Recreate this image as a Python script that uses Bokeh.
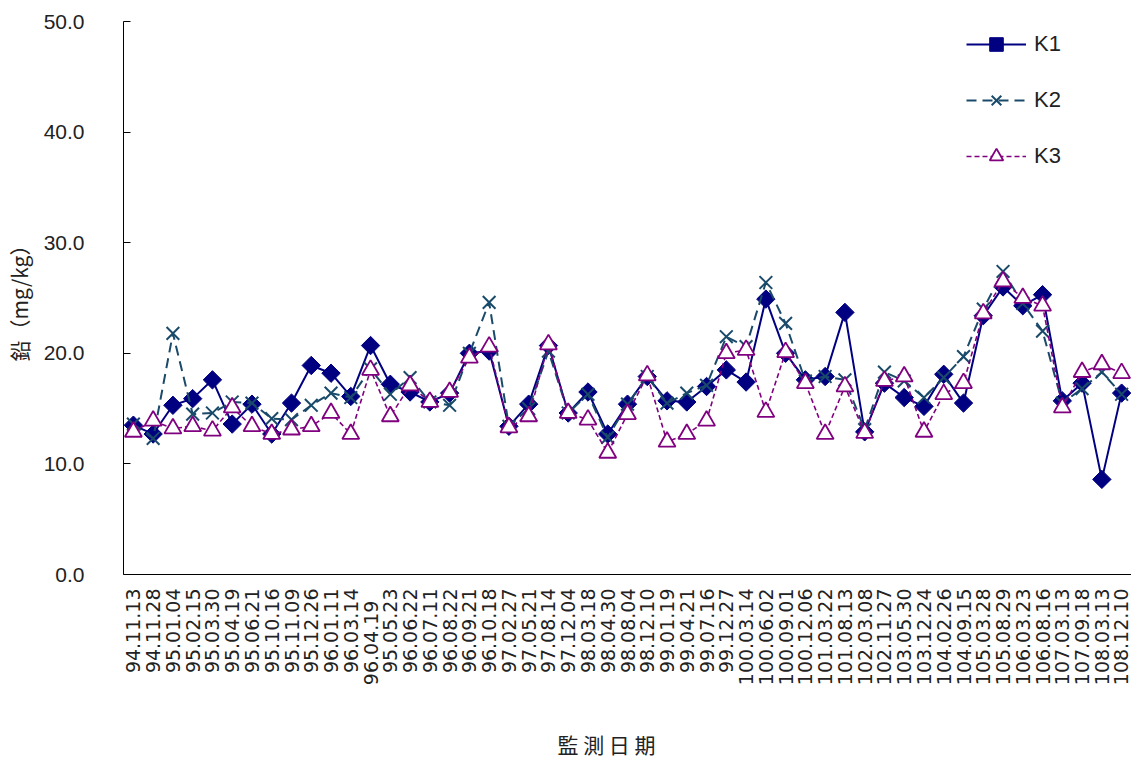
import math
from bokeh.plotting import figure
from bokeh.models import (FactorRange, Range1d, FixedTicker, Legend, LegendItem,
                          NumeralTickFormatter)
from bokeh.embed import file_html
from bokeh.resources import INLINE

dates = ["94.11.13", "94.11.28", "95.01.04", "95.02.15", "95.03.30", "95.04.19", "95.06.21",
         "95.10.16", "95.11.09", "95.12.26", "96.01.11", "96.03.14", "96.04.19\u00a0\u00a0", "95.05.23",
         "96.06.22", "96.07.11", "96.08.22", "96.09.21", "96.10.18", "97.02.27", "97.05.21",
         "97.08.14", "97.12.04", "98.03.18", "98.04.30", "98.08.04", "98.12.10", "99.01.19",
         "99.04.21", "99.07.16", "99.12.27", "100.03.14", "100.06.02", "100.09.01", "100.12.06",
         "101.03.22", "101.08.13", "102.03.08", "102.11.27", "103.05.30", "103.12.24", "104.02.26",
         "104.09.15", "105.03.28", "105.08.29", "106.03.23", "106.08.16", "107.03.13", "107.09.18",
         "108.03.13", "108.12.10"]

k1 = [13.5, 12.7, 15.3, 15.9, 17.6, 13.6, 15.4, 12.7, 15.5, 18.9, 18.2, 16.1, 20.7, 17.2, 16.5,
      15.6, 16.4, 20.0, 20.2, 13.4, 15.4, 20.7, 14.6, 16.5, 12.7, 15.4, 17.9, 15.7, 15.6, 17.0,
      18.5, 17.4, 24.9, 20.0, 17.6, 17.9, 23.7, 12.9, 17.3, 16.0, 15.2, 18.1, 15.5, 23.4, 26.0,
      24.3, 25.3, 15.7, 17.3, 8.6, 16.4]
k2 = [13.6, 12.3, 21.8, 14.5, 14.6, 15.6, 15.5, 14.1, 14.0, 15.3, 16.4, 16.0, 18.6, 16.3, 17.8,
      15.6, 15.3, 20.0, 24.6, 13.4, 15.0, 20.2, 14.6, 16.3, 12.4, 15.4, 17.9, 15.5, 16.4, 17.1,
      21.5, 20.6, 26.4, 22.7, 17.5, 17.9, 17.6, 13.1, 18.3, 17.5, 16.0, 17.8, 19.7, 24.0, 27.4,
      24.5, 22.0, 15.5, 16.8, 18.3, 16.3]
k3 = [12.9, 13.9, 13.2, 13.4, 13.0, 15.1, 13.4, 12.7, 13.1, 13.4, 14.6, 12.7, 18.5, 14.3, 17.1,
      15.6, 16.5, 19.6, 20.6, 13.3, 14.3, 20.8, 14.6, 14.0, 11.0, 14.5, 18.0, 12.0, 12.7, 13.9,
      20.0, 20.3, 14.7, 20.1, 17.3, 12.7, 17.0, 12.8, 17.5, 17.9, 12.9, 16.3, 17.3, 23.6, 26.5,
      25.0, 24.3, 15.1, 18.3, 19.0, 18.2]

y_ticks = [0, 10, 20, 30, 40, 50]

p = figure(x_range=FactorRange(factors=dates, range_padding=0),
           y_range=Range1d(0, 50),
           frame_width=1008, frame_height=553,
           min_border_left=120, min_border_top=21, min_border_right=0, min_border_bottom=0,
           output_backend="svg", toolbar_location=None)
p.outline_line_color = None
p.xgrid.grid_line_color = None
p.ygrid.grid_line_color = None
p.background_fill_color = "white"

c1, c2, c3 = "#000080", "#1a4a6a", "#800080"

r1l = p.line(dates, k1, line_color=c1, line_width=2)
r1m = p.scatter(dates, k1, marker="square", angle=math.pi / 4, size=13,
                fill_color=c1, line_color=c1)
r2l = p.line(dates, k2, line_color=c2, line_width=2, line_dash="10 6")
r2m = p.scatter(dates, k2, marker="x", size=18, line_color=c2, line_width=2)
r3l = p.line(dates, k3, line_color=c3, line_width=1.6, line_dash="5 3")
r3m = p.scatter(dates, k3, marker="triangle", size=17, fill_color="white",
                line_color=c3, line_width=1.8)

legend = Legend(items=[LegendItem(label="K1", renderers=[r1l, r1m]),
                       LegendItem(label="K2", renderers=[r2l, r2m]),
                       LegendItem(label="K3", renderers=[r3l, r3m])],
                location=(843, 401), padding=0, margin=0, spacing=22,
                glyph_width=60, glyph_height=34, label_height=34,
                label_standoff=8, border_line_color=None, background_fill_alpha=0,
                label_text_font="Liberation Sans", label_text_font_size="22px",
                label_text_color="#222222")
p.add_layout(legend)

ya = p.yaxis[0]
ya.ticker = FixedTicker(ticks=y_ticks)
ya.formatter = NumeralTickFormatter(format="0.0")
ya.minor_tick_line_color = None
ya.major_tick_in = 7
ya.major_tick_out = 0
ya.major_label_standoff = 39
ya.major_label_text_font = "Liberation Sans"
ya.major_label_text_font_size = "21px"
ya.major_label_text_color = "#222222"
ya.axis_line_color = "black"
ya.major_tick_line_color = "black"
ya.axis_label = "鉛（mg/kg）"
ya.axis_label_text_font = "Noto Sans CJK TC"
ya.axis_label_text_font_size = "21px"
ya.axis_label_text_font_style = "normal"
ya.axis_label_text_color = "#222222"
ya.axis_label_standoff = 7

xa = p.xaxis[0]
xa.major_tick_in = 0
xa.major_tick_out = 0
xa.minor_tick_line_color = None
xa.major_label_orientation = math.pi / 2
xa.major_label_standoff = 14
xa.major_label_text_font = "DejaVu Sans"
xa.major_label_text_font_size = "19px"
xa.major_label_text_color = "#222222"
xa.axis_line_color = "black"
xa.axis_label = "監 測 日 期\u3000\u3000"
xa.axis_label_text_font = "Noto Sans CJK TC"
xa.axis_label_text_font_size = "21px"
xa.axis_label_text_font_style = "normal"
xa.axis_label_text_color = "#222222"
xa.axis_label_standoff = 41

open("out.html", "w").write(file_html(p, INLINE))
